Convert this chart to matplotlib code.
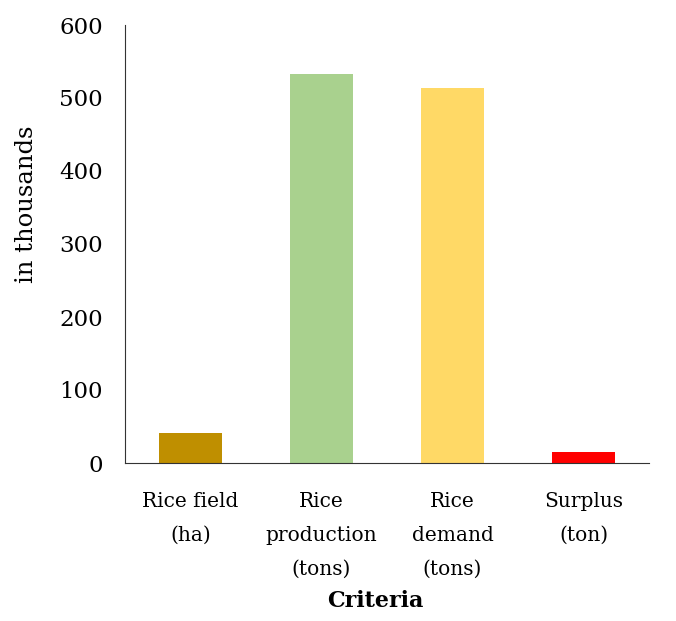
import matplotlib
matplotlib.use("Agg")
import matplotlib.pyplot as plt

categories = ["Rice field\n(ha)", "Rice\nproduction\n(tons)", "Rice\ndemand\n(tons)", "Surplus\n(ton)"]
values = [41, 533, 514, 15]
colors = ["#BF8F00", "#A9D18E", "#FFD966", "#FF0000"]
yticks = [0, 100, 200, 300, 400, 500, 600]

plt.rcParams['font.family'] = ['DejaVu Serif']

fig = plt.figure(figsize=(6.76, 6.21), dpi=100)
ax = fig.add_axes([125/676, 1 - 463/621, 524/676, 438/621])
x = list(range(len(categories)))
ax.bar(x, values, width=0.48, color=colors)
ax.set_xlim(-0.5, 3.5)
ax.set_ylim(0, 600)
ax.set_yticks(yticks)
ax.set_yticklabels([str(t) for t in yticks], fontsize=16.5)
ax.set_xticks(x)
ax.set_xticklabels(categories, fontsize=14.5, linespacing=2.0)
ax.tick_params(axis='both', length=0)
ax.tick_params(axis='y', pad=16)
ax.tick_params(axis='x', pad=21)
for s in ['top', 'right']:
    ax.spines[s].set_visible(False)
ax.spines['left'].set_color('#333333')
ax.spines['bottom'].set_color('#333333')
ax.set_ylabel("in thousands", fontsize=17.5)
ax.yaxis.set_label_coords(-0.166, 0.59)
ax.set_xlabel("Criteria", fontsize=16, fontweight='bold')
ax.xaxis.set_label_coords((375 - 125) / 524, -(590 - 463) / 438)
fig.savefig("out.png", dpi=100, facecolor='white')
